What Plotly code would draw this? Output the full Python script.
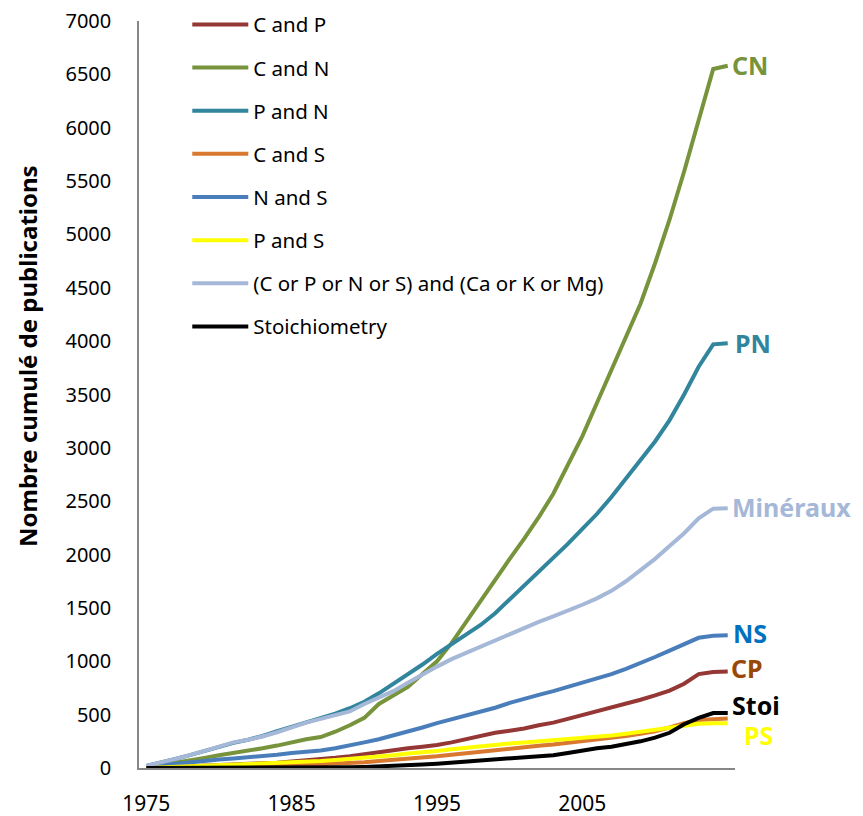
import plotly.graph_objects as go

years = list(range(1975, 2016))

c_and_p = [0, 5, 10, 15, 20, 25, 30, 35, 40, 50, 60, 70, 80, 95, 110, 130, 145, 165, 185, 200,
           215, 240, 270, 300, 330, 350, 370, 400, 425, 460, 495, 530, 565, 600, 640, 680, 725, 790, 880, 900, 905]
c_and_n = [20, 30, 50, 70, 95, 120, 140, 160, 185, 210, 240, 270, 290, 340, 400, 470, 600, 680, 760, 880,
           1000, 1170, 1370, 1570, 1760, 1960, 2150, 2350, 2570, 2830, 3110, 3420, 3730, 4030, 4350, 4730, 5140, 5590, 6080, 6550, 6580]
p_and_n = [20, 50, 85, 120, 160, 200, 235, 265, 300, 345, 385, 430, 470, 510, 560, 620, 700, 790, 870, 970,
           1070, 1160, 1250, 1340, 1450, 1580, 1700, 1830, 1970, 2100, 2240, 2380, 2540, 2710, 2880, 3060, 3260, 3500, 3760, 3970, 3980]
c_and_s = [0, 2, 4, 6, 8, 10, 12, 15, 18, 22, 26, 30, 35, 40, 47, 55, 65, 75, 88, 100,
           110, 125, 140, 155, 170, 182, 195, 208, 220, 235, 248, 262, 280, 300, 320, 345, 380, 420, 450, 460, 465]
n_and_s = [10, 25, 40, 55, 70, 80, 90, 100, 110, 125, 140, 150, 165, 185, 210, 240, 270, 305, 340, 380,
           420, 455, 490, 525, 565, 610, 650, 685, 720, 760, 800, 840, 880, 930, 980, 1040, 1100, 1160, 1220, 1240, 1245]
p_and_s = [0, 5, 10, 15, 20, 25, 30, 35, 40, 45, 50, 55, 65, 75, 85, 95, 105, 120, 135, 145,
           160, 175, 190, 205, 215, 230, 240, 250, 260, 270, 280, 290, 305, 320, 340, 360, 380, 400, 415, 420, 420]
mineraux = [20, 50, 85, 120, 160, 205, 240, 265, 295, 335, 380, 425, 460, 495, 530, 600, 660, 720, 800, 880,
            950, 1020, 1080, 1140, 1200, 1260, 1310, 1370, 1420, 1470, 1530, 1590, 1660, 1750, 1850, 1960, 2080, 2200, 2340, 2430, 2435]
stoichiometry = [0, 0, 0, 0, 0, 0, 0, 0, 0, 0, 1, 2, 3, 5, 7, 10, 14, 19, 25, 32,
                 40, 50, 60, 70, 80, 92, 102, 110, 120, 140, 165, 185, 200, 225, 250, 285, 330, 410, 470, 515, 515]

series_names = ["C and P", "C and N", "P and N", "C and S", "N and S", "P and S",
                "(C or P or N or S) and (Ca or K or Mg)", "Stoichiometry"]
series_values = [c_and_p, c_and_n, p_and_n, c_and_s, n_and_s, p_and_s, mineraux, stoichiometry]
series_colors = ["#953735", "#77933C", "#31859C", "#D9782F", "#4A7EBB", "#FFFF00", "#A5B8D7", "#000000"]

end_labels = ["CN", "PN", "Minéraux", "NS", "CP", "Stoi", "PS"]
end_label_y = [6590, 3983, 2446, 1265, 937, 590, 309]
end_label_xpaper = [0.992, 0.996, 0.992, 0.994, 0.99, 0.992, 1.012]
end_label_colors = ["#77933C", "#31859C", "#A5B8D7", "#0070C0", "#984806", "#000000", "#FFFF00"]

y_title = "Nombre cumulé de publications"
y_ticks = list(range(0, 7001, 500))
x_ticks = [1975, 1985, 1995, 2005]

fig = go.Figure()
for i, (name, vals, col) in enumerate(zip(series_names, series_values, series_colors)):
    fig.add_trace(go.Scatter(x=years, y=vals, mode="lines", name=name,
                             legendgroup=f"g{i}",
                             line=dict(color=col, width=4)))

for txt, yv, xv, col in zip(end_labels, end_label_y, end_label_xpaper, end_label_colors):
    fig.add_annotation(x=xv, y=yv, xref="paper", yref="y", text=f"<b>{txt}</b>",
                       showarrow=False, xanchor="left", yanchor="middle",
                       font=dict(family="Noto Sans", size=25, color=col))

fig.add_annotation(x=-0.188, y=0.5515, xref="paper", yref="paper", text=f"<b>{y_title}</b>",
                   textangle=-90, showarrow=False, xanchor="center", yanchor="middle",
                   font=dict(family="Noto Sans", size=24, color="black"))

fig.update_layout(
    width=855, height=808,
    margin=dict(l=131, r=128, t=13, b=48, autoexpand=False),
    paper_bgcolor="white", plot_bgcolor="white",
    font=dict(family="Noto Sans", color="black"),
    showlegend=True,
    legend=dict(x=0.081, y=1.022, xanchor="left", yanchor="top",
                font=dict(family="Noto Sans", size=20.5, color="black"),
                tracegroupgap=13.5, itemwidth=56, bgcolor="rgba(0,0,0,0)"),
    xaxis=dict(range=[1974.5, 2015.5], tickvals=x_ticks, ticktext=[str(t) for t in x_ticks],
               showgrid=False, zeroline=False, showline=True, linecolor="#868686", linewidth=1.5,
               ticks="", automargin=False, ticklabelstandoff=16, ticklabeloverflow="allow",
               tickfont=dict(family="Noto Sans", size=21, color="black")),
    yaxis=dict(range=[0, 7000], tickvals=y_ticks, showgrid=False, zeroline=False,
               showline=True, linecolor="#868686", linewidth=1.5, ticks="",
               automargin=False, ticklabelstandoff=22, ticklabeloverflow="allow",
               tickfont=dict(family="Noto Sans", size=20, color="black")),
)

fig.write_html("out.html")
